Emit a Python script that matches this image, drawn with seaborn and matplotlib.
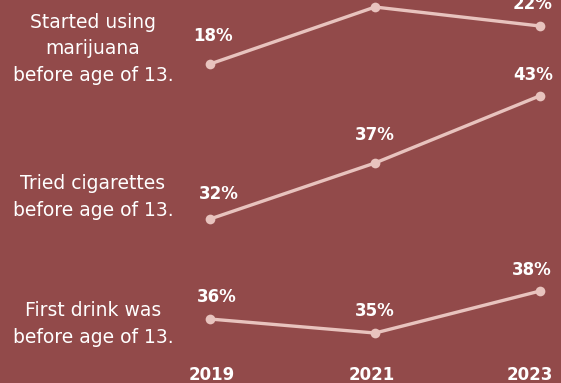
import matplotlib
matplotlib.use("Agg")
import matplotlib.pyplot as plt
import seaborn as sns
import pandas as pd

# Survey years and share of students reporting each behaviour before age 13
years = [2019, 2021, 2023]
marijuana = [18, 24, 22]
cigarettes = [32, 37, 43]
alcohol = [36, 35, 38]
categories = [
    "Started using\nmarijuana\nbefore age of 13.",
    "Tried cigarettes\nbefore age of 13.",
    "First drink was\nbefore age of 13.",
]
year_labels = ["2019", "2021", "2023"]

BG = "#924a4a"
LINE = "#e8c3be"
WHITE = "#ffffff"

sns.set_theme(style="white")
plt.rcParams["font.family"] = ["DejaVu Sans"]

fig = plt.figure(figsize=(5.61, 3.83), dpi=100)
fig.patch.set_facecolor(BG)

# Each series gets its own full-figure transparent axes with an independent y scale
series = [marijuana, cigarettes, alcohol]
ylims = [(-15.6, 24.74), (17.36, 51.55), (31.43, 58.79)]
xlim = (2016.4545, 2023.2545)

label_offsets = [
    [(2, 20), (0, 21), (-5, 16)],
    [(6, 18), (0, 20), (-5, 15)],
    [(5, 16), (0, 16), (-6, 15)],
]

for vals, ylim, offs in zip(series, ylims, label_offsets):
    ax = fig.add_axes([0, 0, 1, 1])
    ax.patch.set_alpha(0)
    df = pd.DataFrame({"year": years, "pct": vals})
    sns.lineplot(data=df, x="year", y="pct", ax=ax, color=LINE, linewidth=2.4,
                 marker="o", markersize=7, markeredgewidth=0, clip_on=False)
    ax.set_xlim(*xlim)
    ax.set_ylim(*ylim)
    ax.axis("off")
    for x, v, (dx, dy) in zip(years, vals, offs):
        ax.annotate(f"{v}%", (x, v), xytext=(dx, dy), textcoords="offset points",
                    ha="center", va="center", color=WHITE, fontsize=12,
                    fontweight="bold")

# Category descriptions on the left
cat_y = [49, 197, 324]
for text, yp in zip(categories, cat_y):
    fig.text(93 / 561, 1 - yp / 383, text, ha="center", va="center",
             color=WHITE, fontsize=13.5, linespacing=1.5)

# Year axis labels along the bottom
year_x = [212, 372, 530]
for lab, xp in zip(year_labels, year_x):
    fig.text(xp / 561, 1 - 375 / 383, lab, ha="center", va="center",
             color=WHITE, fontsize=12, fontweight="bold")

fig.savefig("out.png", dpi=100, facecolor=BG)
